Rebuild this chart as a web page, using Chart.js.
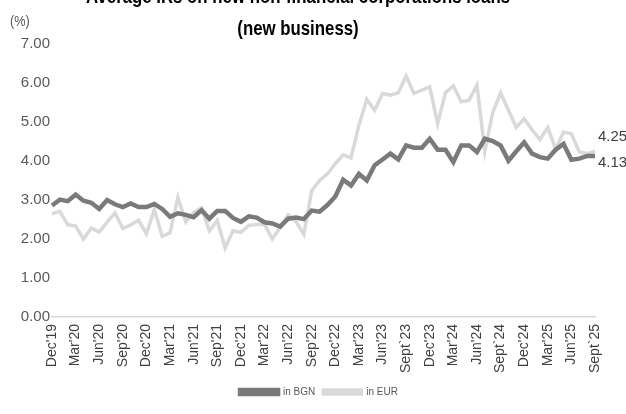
<!DOCTYPE html>
<html>
<head>
<meta charset="utf-8">
<script src="https://cdn.jsdelivr.net/npm/chart.js@4.4.1/dist/chart.umd.min.js"></script>
<style>
  html, body { margin: 0; padding: 0; background: #ffffff; }
  #wrap { width: 626px; height: 414px; position: relative; }
</style>
</head>
<body>
<div id="wrap"><canvas id="myChart" width="626" height="414"></canvas></div>
<script>
////////////////////////////// DATA //////////////////////////////
// shown month labels, one every 3 months (Dec'19 .. Sept`25)
const tickLabels = [
  "Dec'19", "Mar'20", "Jun'20", "Sep'20", "Dec'20", "Mar'21", "Jun'21", "Sep'21",
  "Dec'21", "Mar'22", "Jun'22", "Sep'22", "Dec'22", "Mar'23", "Jun'23", "Sept`23",
  "Dec'23", "Mar'24", "Jun'24", "Sept`24", "Dec'24", "Mar'25", "Jun'25", "Sept`25"
];

// in BGN, monthly
const bgnValues = [
  2.86, 3.01, 2.97, 3.14, 2.98, 2.93, 2.77, 3.00, 2.89, 2.82,
  2.91, 2.82, 2.82, 2.90, 2.77, 2.57, 2.66, 2.62, 2.56, 2.74,
  2.52, 2.72, 2.72, 2.54, 2.44, 2.58, 2.55, 2.43, 2.40, 2.32,
  2.52, 2.55, 2.51, 2.73, 2.70, 2.87, 3.09, 3.52, 3.37, 3.67,
  3.50, 3.89, 4.04, 4.19, 4.04, 4.40, 4.34, 4.34, 4.57, 4.29,
  4.29, 3.97, 4.40, 4.40, 4.23, 4.57, 4.51, 4.40, 4.01, 4.25,
  4.48, 4.19, 4.10, 4.06, 4.29, 4.44, 4.03, 4.06, 4.13, 4.13
];

// in EUR, monthly
const eurValues = [
  2.65, 2.71, 2.37, 2.33, 2.00, 2.28, 2.18, 2.43, 2.67, 2.27,
  2.36, 2.48, 2.13, 2.76, 2.07, 2.16, 3.06, 2.44, 2.68, 2.80,
  2.21, 2.48, 1.77, 2.21, 2.17, 2.35, 2.37, 2.38, 2.00, 2.30,
  2.62, 2.45, 2.12, 3.24, 3.50, 3.67, 3.93, 4.16, 4.08, 4.92,
  5.58, 5.30, 5.73, 5.69, 5.75, 6.18, 5.73, 5.82, 5.90, 4.96,
  5.75, 5.93, 5.52, 5.56, 5.94, 4.25, 5.24, 5.75, 5.30, 4.86,
  5.08, 4.80, 4.55, 4.86, 4.30, 4.74, 4.70, 4.23, 4.19, 4.25
];

const seriesNames = ["in BGN", "in EUR"];
const titleLines = ["Average IRs on new non-financial corporations loans", "(new business)"];
const unitLabel = "(%)";

// one label per month, text only on every third month
const monthLabels = bgnValues.map((v, i) => (i % 3 === 0 ? tickLabels[i / 3] : ""));

////////////////////////////// STYLE //////////////////////////////
const FONT = "'Liberation Sans', Arial, sans-serif";
const textGrey = "#595959";
const darkLine = "#7a7a7a";
const lightLine = "#d9d9d9";

// title, unit and last-value labels
const extraText = {
  id: "extraText",
  afterDraw(chart) {
    const ctx = chart.ctx;
    ctx.save();
    ctx.fillStyle = "#000000";
    ctx.textAlign = "center";
    ctx.textBaseline = "alphabetic";
    ctx.font = "bold 21px " + FONT;
    // condensed look of the original title
    ctx.save();
    ctx.translate(298, 0);
    ctx.scale(0.8, 1);
    ctx.fillText(titleLines[0], 0, 3);
    ctx.fillText(titleLines[1], 0, 35);
    ctx.restore();

    ctx.fillStyle = textGrey;
    ctx.textAlign = "left";
    ctx.textBaseline = "middle";
    ctx.font = "15px " + FONT;
    ctx.save();
    ctx.translate(10, 22);
    ctx.scale(0.85, 1);
    ctx.fillText(unitLabel, 0, 0);
    ctx.restore();

    ctx.fillStyle = "#404040";
    const bgnPt = chart.getDatasetMeta(0).data[bgnValues.length - 1];
    const eurPt = chart.getDatasetMeta(1).data[eurValues.length - 1];
    ctx.fillText(eurValues[eurValues.length - 1].toFixed(2), 598, eurPt.y - 14);
    ctx.fillText(bgnValues[bgnValues.length - 1].toFixed(2), 598, bgnPt.y + 7);
    ctx.restore();
  }
};

const data = {
  labels: monthLabels,
  datasets: [
    {
      label: seriesNames[0],
      data: bgnValues,
      borderColor: darkLine,
      backgroundColor: darkLine,
      borderWidth: 4.5,
      pointRadius: 0,
      tension: 0,
    },
    {
      label: seriesNames[1],
      data: eurValues,
      borderColor: lightLine,
      backgroundColor: lightLine,
      borderWidth: 3.5,
      pointRadius: 0,
      tension: 0,
    },
  ],
};

const config = {
  type: "line",
  data: data,
  options: {
    responsive: false,
    animation: false,
    layout: { padding: { top: 44, right: 0, left: 12, bottom: 7 } },
    plugins: {
      title: { display: false },
      tooltip: { enabled: false },
      legend: {
        position: "bottom",
        labels: {
          boxWidth: 38,
          boxHeight: 4,
          padding: 8,
          color: textGrey,
          font: { family: FONT, size: 10 },
        },
      },
    },
    scales: {
      x: {
        grid: { display: false, drawTicks: false },
        border: { display: true, color: "#d9d9d9", width: 1.5 },
        afterFit: (scale) => { scale.height = 62; },
        ticks: {
          autoSkip: false,
          maxRotation: 90,
          minRotation: 90,
          padding: 7,
          color: "#404040",
          font: { family: FONT, size: 14 },
          callback: function (value, index) { return monthLabels[index]; },
        },
      },
      y: {
        min: 0,
        max: 7,
        grid: { display: false, drawTicks: false },
        border: { display: false },
        afterFit: (scale) => { scale.width = 40; },
        ticks: {
          stepSize: 1,
          padding: 2,
          color: textGrey,
          font: { family: FONT, size: 15 },
          callback: (v) => v.toFixed(2),
        },
      },
      // empty right axis, keeps room for the end labels
      yRight: {
        position: "right",
        min: 0,
        max: 7,
        grid: { display: false, drawTicks: false },
        border: { display: false },
        ticks: { display: false },
        afterFit: (scale) => { scale.width = 31; },
      },
    },
  },
  plugins: [extraText],
};

const myChart = new Chart(document.getElementById("myChart"), config);
</script>
</body>
</html>
